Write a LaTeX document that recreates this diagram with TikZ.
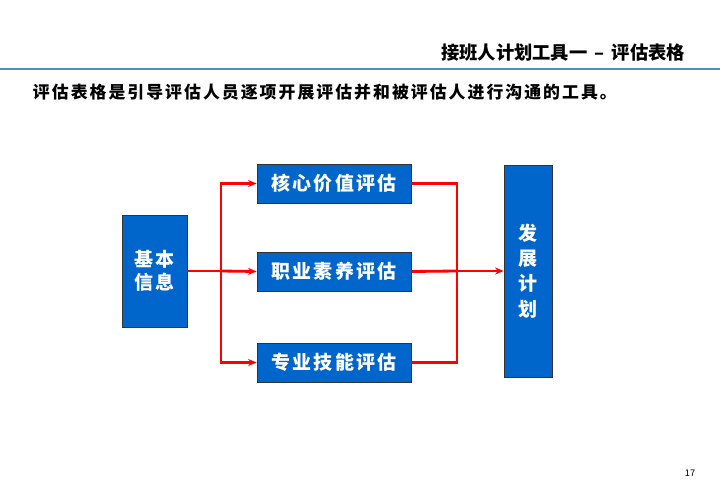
\documentclass[tikz,border=0pt]{standalone}
\usepackage{fontspec}
\setmainfont{Noto Sans CJK SC}
\newfontfamily\cjk{Noto Sans CJK SC}
\newfontfamily\cjkwide[LetterSpace=12]{Noto Sans CJK SC}
\usetikzlibrary{positioning}
\usetikzlibrary{arrows.meta}
\definecolor{box-blue}{HTML}{0066CC}
\definecolor{line-blue}{HTML}{4F8FBF}
\definecolor{link-red}{HTML}{FF0000}
\newlength{\basisb}
\setlength{\basisb}{0.025cm}
\begin{document}
\begin{tikzpicture}[x=\basisb,y=-\basisb,
    block/.style={draw=black!80, line width=0.6pt, fill=box-blue, text=white,
        font=\cjkwide\bfseries\fontsize{13.5pt}{16pt}\selectfont, inner sep=0pt},
    link/.style={draw=link-red, line width=2pt},
    tip/.style={link, -{Stealth[length=6pt,width=5pt]}}]
    \useasboundingbox (0,0) rectangle (720,498);

    % header
    \draw[line-blue, line width=1.2pt] (0,69) -- (720,69);
    \node[anchor=east, font=\cjk\bfseries\fontsize{13pt}{15pt}\selectfont] (Title) at (690,53) {接班人计划工具一 \,–\, 评估表格};
    \node[anchor=west, font=\cjkwide\bfseries\fontsize{12pt}{14pt}\selectfont] (Intro) at (28,92) {评估表格是引导评估人员逐项开展评估并和被评估人进行沟通的工具。};

    % blocks
    \node[block, minimum width=65\basisb, minimum height=112\basisb, align=center] (BasicInfo) at (154.5,271) {基本\\信息};
    \node[block, minimum width=154\basisb, minimum height=39\basisb] (CoreValue) at (334,183.5) {核心价值评估};
    \node[block, minimum width=154\basisb, minimum height=39\basisb] (Quality) at (334,271.5) {职业素养评估};
    \node[block, minimum width=154\basisb, minimum height=39\basisb] (Skill) at (334,362.5) {专业技能评估};
    \node[block, minimum width=48\basisb, minimum height=212\basisb, align=center] (DevPlan) at (528,271) {发\\[2pt]展\\[2pt]计\\[2pt]划};

    \coordinate (Split) at (221,271);
    \coordinate (Merge) at (457,271);

    % connectors
    \draw[link] (BasicInfo.east) -- (Split);
    \draw[tip] (Split) |- (CoreValue.west);
    \draw[tip] (Split) -- (Quality.west);
    \draw[tip] (Split) |- (Skill.west);
    \draw[link] (CoreValue.east) -| (Merge);
    \draw[link] (Skill.east) -| (Merge);
    \draw[link] (Quality.east) -- (Merge);
    \draw[tip] (Merge) -- (DevPlan.west);

    \node[font=\fontsize{6.5pt}{8pt}\selectfont] (PageNo) at (690,473) {17};
\end{tikzpicture}
\end{document}
